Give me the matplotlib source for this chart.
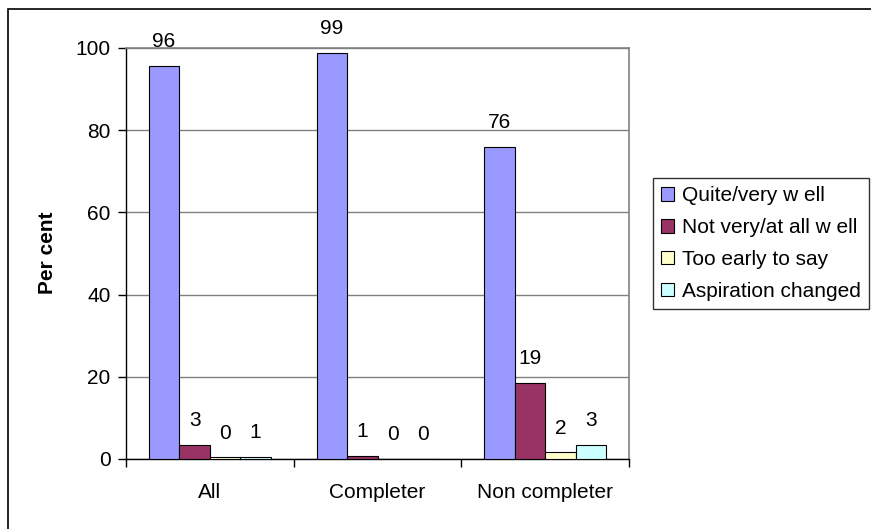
import numpy as np
import matplotlib.pyplot as plt
from matplotlib.patches import Rectangle

plt.rcParams["font.family"] = ["Liberation Sans", "DejaVu Sans"]

categories = ["All", "Completer", "Non completer"]
series_names = ["Quite/very w ell", "Not very/at all w ell", "Too early to say", "Aspiration changed"]
quite_well = [95.6, 98.8, 76.0]
not_well = [3.4, 0.8, 18.6]
too_early = [0.4, 0.0, 1.6]
changed = [0.6, 0.0, 3.4]
colors = ["#9999FF", "#993366", "#FFFFCC", "#CCFFFF"]

W, H = 871, 529
fig = plt.figure(figsize=(W / 100, H / 100), dpi=100)
ax = fig.add_axes([126 / W, 1 - 459 / H, 503 / W, 411 / H])

series = [quite_well, not_well, too_early, changed]
x = np.arange(len(categories))
width = 1 / 5.5

for j, (vals, name, col) in enumerate(zip(series, series_names, colors)):
    pos = x + (j - 1.5) * width
    ax.bar(pos, vals, width, color=col, edgecolor="black", linewidth=0.8,
           label=name, zorder=3)
    for xp, v in zip(pos, vals):
        ax.annotate(f"{v:.0f}", (xp, v), xytext=(0, 13.5), textcoords="offset points",
                    ha="center", va="baseline", fontsize=15, color="black")

ax.set_xlim(-0.5, 2.5)
ax.set_ylim(0, 100)
ax.set_yticks(range(0, 101, 20))
ax.yaxis.grid(True, color="#808080", linewidth=1, zorder=0)
ax.tick_params(axis="y", labelsize=15, length=6, width=1, pad=5, color="black")

# category boundaries get the tick marks, centres get the labels
ax.set_xticks([-0.5, 0.5, 1.5, 2.5])
ax.set_xticklabels([])
ax.tick_params(axis="x", which="major", length=6, width=1, color="black")
ax.set_xticks(x, minor=True)
ax.set_xticklabels(categories, minor=True)
ax.tick_params(axis="x", which="minor", length=0, labelsize=15, pad=17)

for side in ["left", "bottom"]:
    ax.spines[side].set_color("black")
    ax.spines[side].set_linewidth(1)
for side in ["top", "right"]:
    ax.spines[side].set_color("#808080")
    ax.spines[side].set_linewidth(1.2)

fig.text(47 / W, 1 - 253 / H, "Per cent", rotation=90, ha="center", va="center",
         fontsize=15, fontweight="bold")

leg = fig.legend(loc="upper left", bbox_to_anchor=(653 / W, 1 - 178 / H),
                 fontsize=15, frameon=True, fancybox=False, shadow=False,
                 handlelength=0.6, handleheight=0.6, handletextpad=0.4,
                 labelspacing=0.62, borderpad=0.4, borderaxespad=0)
leg.get_frame().set_edgecolor("black")
leg.get_frame().set_linewidth(1)

# chart border, running off the right and bottom edges
top = 1 - 9 / H
fig.add_artist(Rectangle((8 / W, -0.2), 1.2, top + 0.2, transform=fig.transFigure,
                         fill=False, edgecolor="black", linewidth=1.2))

fig.savefig("out.png", dpi=100)
